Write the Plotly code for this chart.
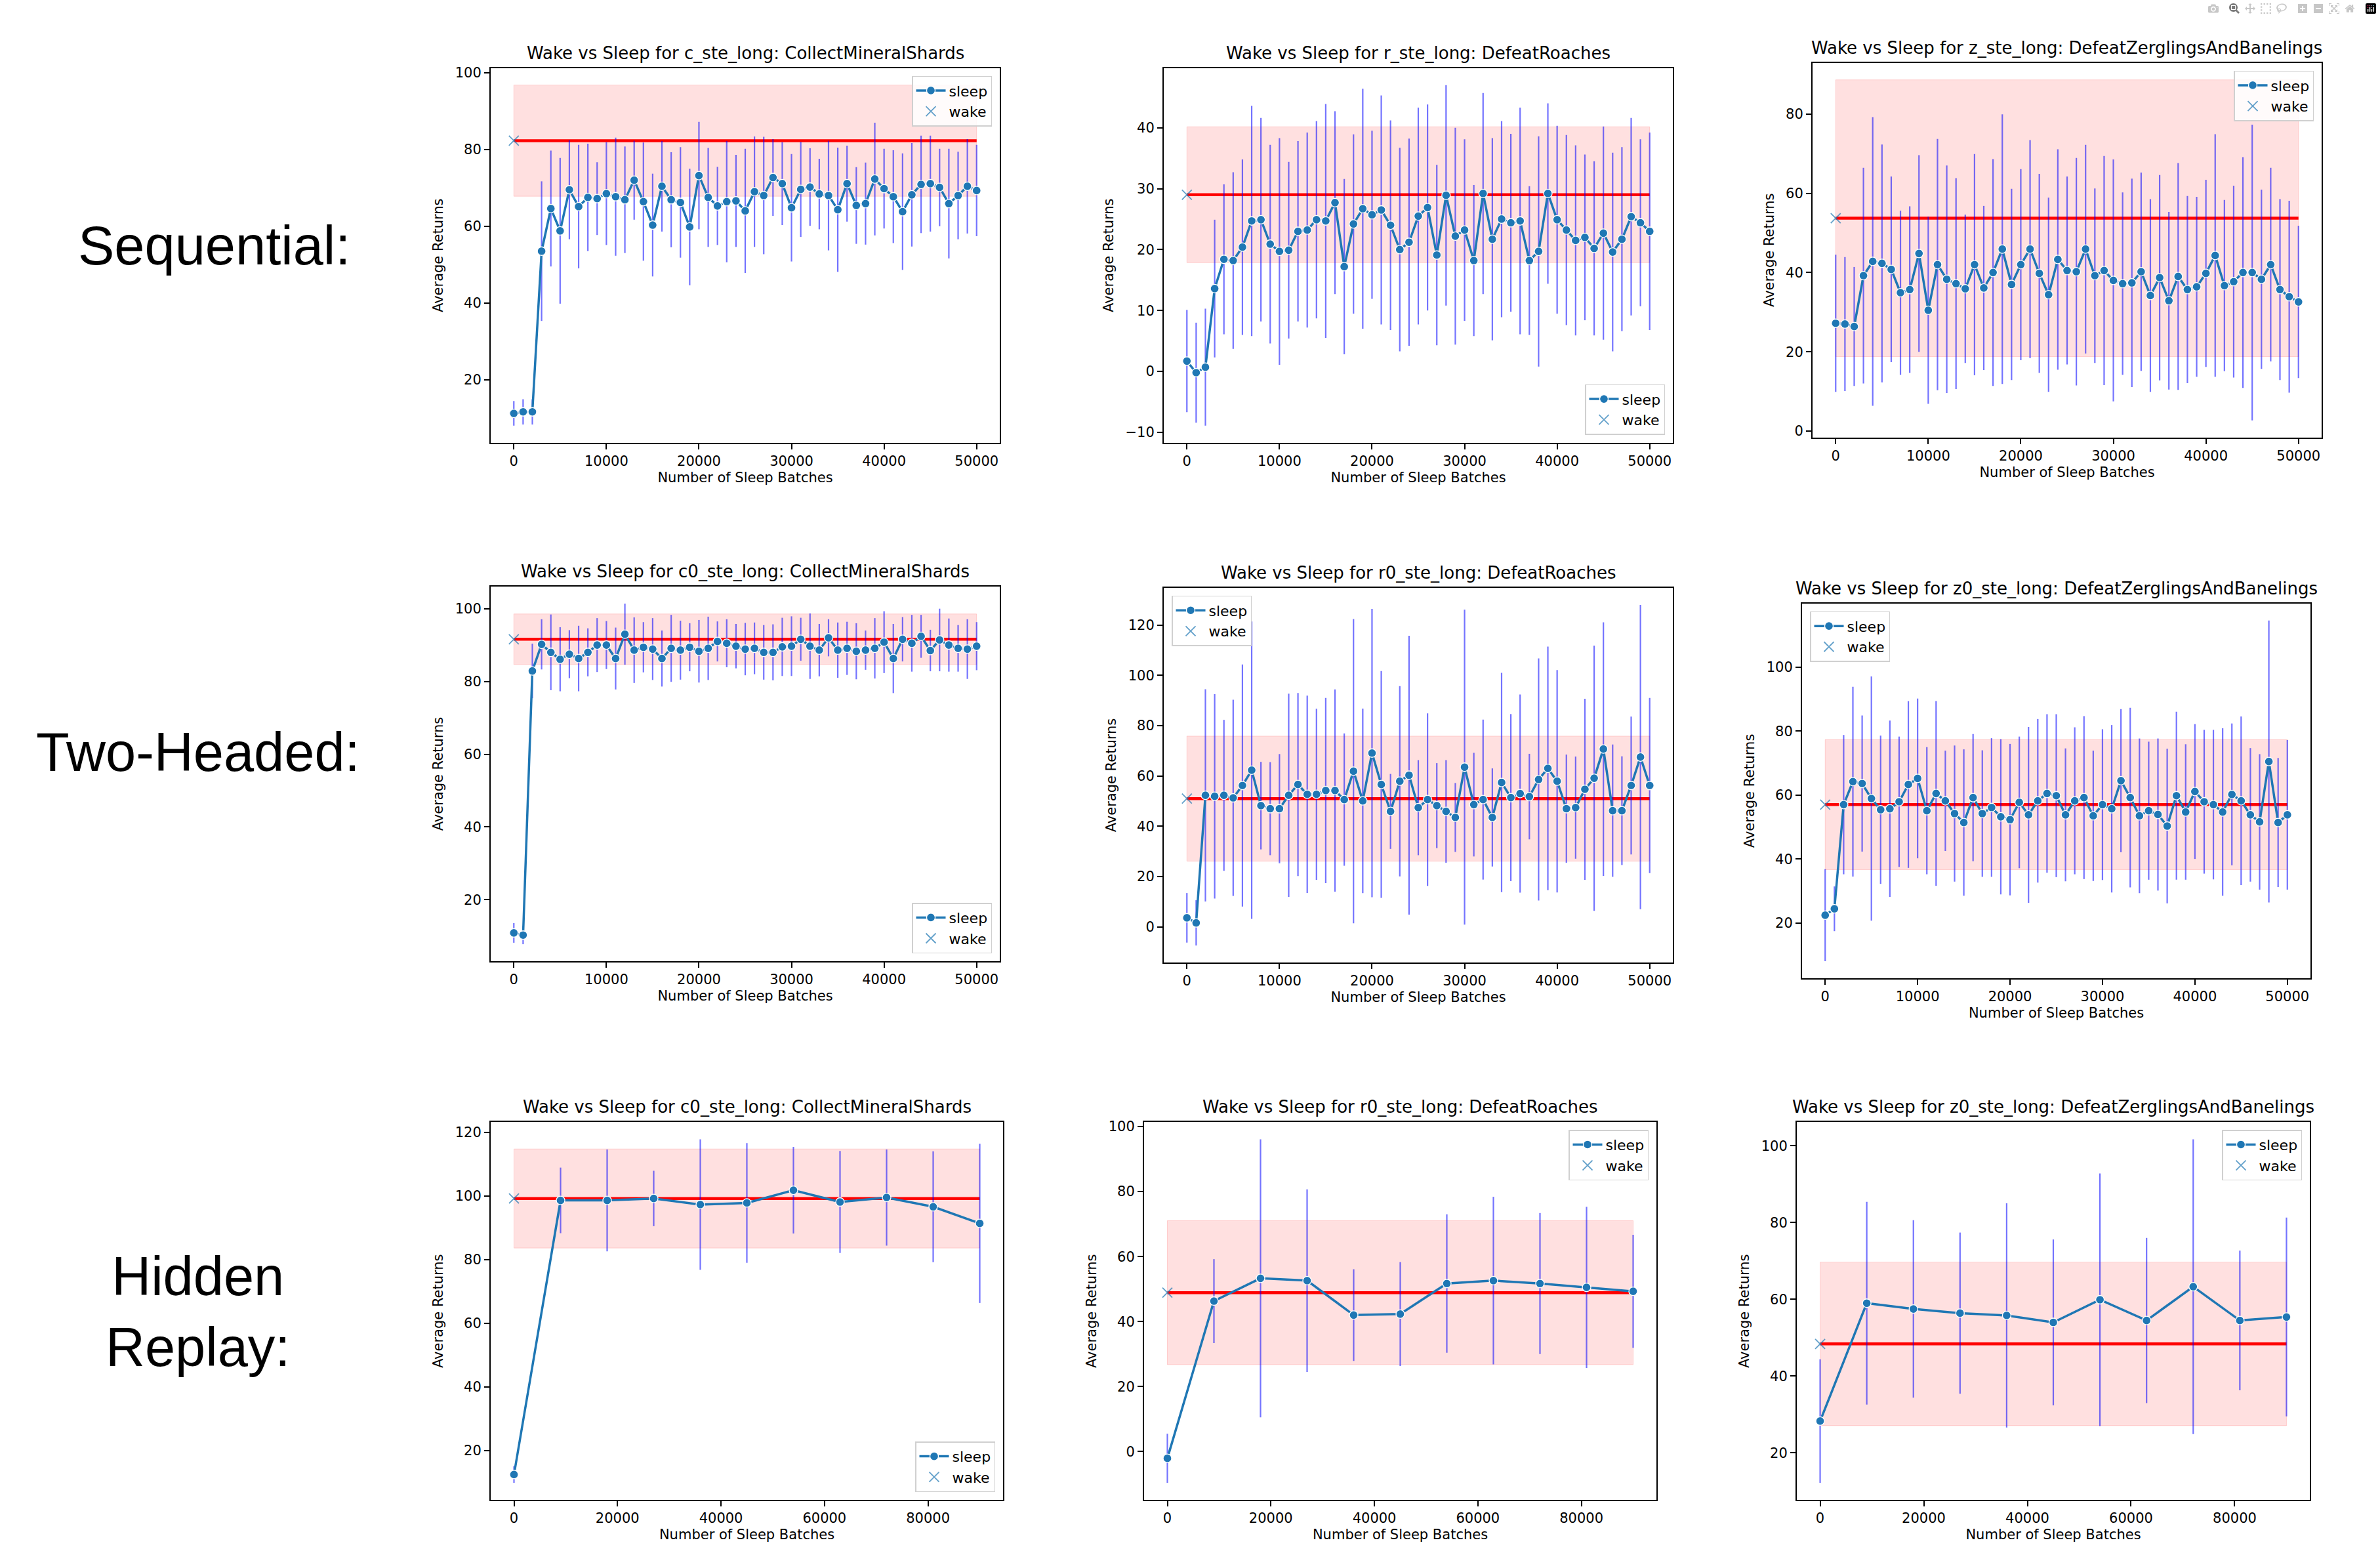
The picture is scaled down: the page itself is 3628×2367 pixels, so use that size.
import plotly.graph_objects as go

# number of sleep batches at each evaluation
seq_batches = [0, 1000, 2000, 3000, 4000, 5000, 6000, 7000, 8000, 9000,
               10000, 11000, 12000, 13000, 14000, 15000, 16000, 17000, 18000, 19000,
               20000, 21000, 22000, 23000, 24000, 25000, 26000, 27000, 28000, 29000,
               30000, 31000, 32000, 33000, 34000, 35000, 36000, 37000, 38000, 39000,
               40000, 41000, 42000, 43000, 44000, 45000, 46000, 47000, 48000, 49000,
               50000]
hr_batches = [0, 9000, 18000, 27000, 36000, 45000, 54000, 63000, 72000, 81000, 90000]

# Sequential
seq_c_mean = [11.2, 11.6, 11.6, 53.5, 64.6, 58.8, 69.5, 65.1, 67.5, 67.2,
              68.5, 67.7, 66.9, 72.0, 66.4, 60.3, 70.4, 66.9, 66.2, 59.8,
              73.2, 67.5, 65.3, 66.4, 66.6, 64.0, 69.0, 68.0, 72.7, 71.1,
              64.8, 69.6, 70.2, 68.4, 68.0, 64.3, 71.1, 65.4, 65.9, 72.3,
              69.8, 67.7, 63.8, 68.2, 70.9, 71.1, 70.1, 65.9, 68.0, 70.4,
              69.3]
seq_c_std = [3.2, 3.3, 3.3, 18.2, 15.1, 19.0, 12.9, 16.1, 14.0, 9.5,
             13.4, 15.4, 13.9, 10.3, 15.4, 13.4, 11.8, 12.4, 14.4, 15.2,
             14.0, 12.9, 10.2, 15.8, 12.0, 16.2, 14.4, 15.3, 10.0, 10.8,
             14.0, 12.4, 10.1, 9.2, 14.3, 16.2, 9.9, 10.0, 10.7, 14.7,
             10.4, 12.1, 15.2, 13.5, 12.7, 12.5, 10.1, 14.3, 11.4, 12.3,
             11.9]
seq_r_mean = [1.7, -0.2, 0.7, 13.6, 18.4, 18.2, 20.4, 24.7, 24.9, 20.9,
              19.7, 19.9, 23.0, 23.2, 24.9, 24.7, 27.7, 17.2, 24.2, 26.7,
              25.7, 26.5, 24.0, 20.0, 21.2, 25.5, 26.9, 19.1, 28.9, 22.2,
              23.2, 18.2, 29.2, 21.7, 25.0, 24.4, 24.7, 18.2, 19.7, 29.2,
              24.9, 23.2, 21.5, 22.0, 20.2, 22.7, 19.6, 21.7, 25.4, 24.4,
              23.0]
seq_r_std = [8.4, 8.2, 9.6, 11.3, 12.3, 14.5, 14.4, 18.9, 16.7, 16.3,
             18.6, 14.5, 14.8, 16.0, 16.2, 19.2, 15.0, 14.4, 14.7, 19.7,
             13.8, 18.8, 17.2, 16.7, 17.0, 17.8, 16.9, 14.8, 18.1, 17.8,
             14.9, 12.4, 16.5, 16.6, 16.1, 14.6, 18.6, 12.2, 18.9, 14.8,
             15.4, 15.6, 15.6, 13.6, 14.3, 17.5, 16.3, 15.1, 16.2, 13.7,
             16.2]
seq_z_mean = [27.2, 27.0, 26.4, 39.2, 42.8, 42.3, 40.8, 34.9, 35.7, 44.8,
              30.5, 42.0, 38.3, 37.2, 35.9, 42.0, 36.1, 40.0, 45.9, 37.0,
              42.0, 45.9, 39.8, 34.4, 43.3, 40.5, 40.2, 45.9, 39.2, 40.5,
              38.0, 37.2, 37.4, 40.2, 34.2, 38.7, 32.9, 39.0, 35.7, 36.4,
              39.8, 44.3, 36.7, 37.7, 40.0, 40.0, 38.3, 42.0, 35.7, 33.9,
              32.6]
seq_z_std = [17.3, 16.9, 15.0, 27.2, 36.4, 30.0, 23.4, 20.7, 21.0, 24.8,
             23.6, 31.7, 28.7, 26.6, 18.7, 27.9, 20.7, 28.6, 34.0, 24.1,
             24.1, 27.5, 25.1, 24.5, 27.8, 23.7, 28.7, 26.3, 22.0, 28.9,
             30.5, 23.0, 26.3, 25.0, 24.3, 25.9, 22.4, 28.6, 23.6, 22.7,
             23.6, 30.6, 21.6, 24.2, 29.1, 37.3, 22.6, 24.4, 22.8, 24.2,
             19.2]

# Two-Headed
two_c_mean = [10.9, 10.3, 82.9, 90.2, 88.0, 86.1, 87.5, 86.3, 88.0, 90.0,
              90.0, 86.3, 93.0, 88.6, 89.4, 88.9, 86.3, 89.1, 88.6, 89.4,
              88.3, 89.1, 91.0, 90.5, 89.7, 88.9, 89.1, 88.0, 88.0, 89.5,
              89.7, 91.6, 89.7, 88.6, 92.0, 88.6, 89.1, 88.3, 88.6, 89.1,
              90.8, 86.3, 91.6, 90.5, 92.4, 88.5, 91.4, 90.0, 89.1, 88.9,
              89.7]
two_c_std = [2.7, 2.5, 7.5, 6.9, 10.4, 8.8, 6.6, 9.0, 6.6, 7.4,
             6.6, 8.5, 8.4, 9.0, 6.9, 8.5, 7.7, 9.2, 8.1, 6.6,
             8.6, 8.7, 5.5, 6.6, 6.1, 7.2, 7.1, 7.5, 7.7, 8.0,
             8.2, 5.9, 9.0, 7.2, 5.1, 7.6, 7.3, 7.7, 5.4, 8.3,
             8.5, 9.5, 6.1, 7.8, 5.9, 5.7, 8.6, 7.3, 6.4, 8.2,
             6.6]
two_r_mean = [3.6, 1.6, 52.3, 51.9, 52.3, 51.3, 56.2, 62.3, 48.2, 47.0,
              47.0, 52.3, 56.6, 52.7, 52.7, 54.2, 54.2, 50.6, 61.9, 50.1,
              69.1, 56.6, 45.9, 57.9, 60.3, 47.4, 50.6, 48.2, 45.9, 43.5,
              63.5, 48.6, 50.6, 43.5, 57.4, 51.4, 53.0, 51.8, 58.6, 63.0,
              57.9, 47.0, 47.4, 54.7, 59.1, 70.7, 46.2, 46.2, 56.2, 67.5,
              56.2]
two_r_std = [9.85, 9.0, 42.2, 40.6, 30.0, 39.0, 48.1, 59.1, 17.4, 18.5,
             21.7, 40.4, 36.4, 39.2, 34.0, 36.8, 40.2, 26.3, 60.5, 36.7,
             57.3, 45.1, 14.9, 37.8, 55.4, 18.9, 34.3, 16.9, 20.4, 13.7,
             62.6, 20.6, 31.8, 19.5, 43.6, 33.2, 39.4, 17.0, 48.1, 48.4,
             44.2, 21.5, 20.3, 36.0, 52.7, 50.4, 26.3, 21.6, 27.4, 60.5,
             34.8]
two_z_mean = [22.4, 24.4, 57.0, 64.2, 63.6, 58.9, 55.4, 55.7, 57.9, 63.3,
              65.2, 55.1, 60.5, 58.2, 54.2, 51.4, 59.2, 54.2, 56.1, 53.2,
              52.3, 57.7, 53.8, 58.2, 60.5, 59.8, 53.8, 58.2, 59.2, 53.5,
              57.0, 55.7, 64.5, 59.2, 53.5, 55.1, 53.9, 50.3, 59.8, 54.7,
              61.1, 57.9, 57.0, 54.7, 60.2, 58.2, 53.8, 51.6, 70.5, 51.4,
              53.8]
two_z_std = [14.4, 7.0, 21.8, 29.7, 21.3, 38.2, 23.2, 27.6, 20.4, 26.1,
             25.0, 19.9, 28.9, 15.7, 21.3, 22.9, 19.9, 19.8, 21.7, 24.3,
             23.7, 20.6, 27.5, 25.6, 24.8, 25.5, 20.8, 23.0, 25.5, 20.4,
             23.6, 26.2, 22.4, 28.1, 24.2, 21.6, 23.8, 24.2, 26.3, 21.2,
             21.1, 22.5, 23.4, 26.2, 22.2, 26.4, 20.9, 21.2, 44.1, 20.2,
             23.4]

# Hidden Replay
hr_c_mean = [12.5, 98.6, 98.6, 99.2, 97.3, 97.8, 101.8, 98.1, 99.5, 96.6, 91.4]
hr_c_std = [2.6, 10.3, 16.0, 8.7, 20.5, 18.8, 13.6, 16.0, 15.1, 17.4, 25.0]
hr_r_mean = [-2.1, 46.3, 53.3, 52.6, 42.0, 42.3, 51.7, 52.6, 51.7, 50.5, 49.3]
hr_r_std = [7.55, 12.9, 42.8, 28.1, 14.1, 16.0, 21.3, 25.8, 21.7, 24.8, 17.4]
hr_z_mean = [28.3, 59.0, 57.5, 56.4, 55.8, 54.0, 59.9, 54.5, 63.3, 54.5, 55.4]
hr_z_std = [16.1, 26.4, 23.1, 21.0, 29.2, 21.6, 32.9, 21.5, 38.4, 18.2, 25.9]

# wake baseline (mean, std) per panel
wake_mean = [82.3, 29.0, 53.7, 91.6, 51.0, 57.0, 99.2, 48.9, 48.4]
wake_std = [14.5, 11.15, 34.9, 6.95, 24.85, 20.35, 15.55, 22.15, 21.3]

titles = [
    "Wake vs Sleep for c_ste_long: CollectMineralShards",
    "Wake vs Sleep for r_ste_long: DefeatRoaches",
    "Wake vs Sleep for z_ste_long: DefeatZerglingsAndBanelings",
    "Wake vs Sleep for c0_ste_long: CollectMineralShards",
    "Wake vs Sleep for r0_ste_long: DefeatRoaches",
    "Wake vs Sleep for z0_ste_long: DefeatZerglingsAndBanelings",
    "Wake vs Sleep for c0_ste_long: CollectMineralShards",
    "Wake vs Sleep for r0_ste_long: DefeatRoaches",
    "Wake vs Sleep for z0_ste_long: DefeatZerglingsAndBanelings",
]
row_labels = ["Sequential:", "Two-Headed:", "Hidden<br>Replay:"]

W, H = 3628, 2367

panels = [
    # batches, mean, std, axes box in px (x0, x1, ytop, ybottom), legend corner, y dtick
    (seq_batches, seq_c_mean, seq_c_std, (748, 1524, 99, 672), "ur", 20),
    (seq_batches, seq_r_mean, seq_r_std, (1774, 2550, 99, 672), "lr", 10),
    (seq_batches, seq_z_mean, seq_z_std, (2763, 3539, 91, 664), "ur", 20),
    (seq_batches, two_c_mean, two_c_std, (748, 1524, 892, 1465), "lr", 20),
    (seq_batches, two_r_mean, two_r_std, (1774, 2550, 894, 1467), "ul", 20),
    (seq_batches, two_z_mean, two_z_std, (2747, 3522, 918, 1491), "ul", 20),
    (hr_batches, hr_c_mean, hr_c_std, (748, 1529, 1711, 2289), "lr", 20),
    (hr_batches, hr_r_mean, hr_r_std, (1744, 2525, 1711, 2289), "ur", 20),
    (hr_batches, hr_z_mean, hr_z_std, (2739, 3521, 1711, 2289), "ur", 20),
]

C0 = "#1f77b4"
FONT = "DejaVu Sans"

fig = go.Figure()
layout = {}
annotations = []

for i, (bx, mean, std, box, corner, ydt) in enumerate(panels):
    k = i + 1
    sfx = "" if k == 1 else str(k)
    xref, yref = "x" + sfx, "y" + sfx
    leg = "legend" + sfx
    wm, ws = wake_mean[i], wake_std[i]
    x_lo, x_hi = bx[0], bx[-1]

    # wake +/- std band
    fig.add_trace(go.Scatter(
        x=[x_lo, x_hi, x_hi, x_lo, x_lo], y=[wm - ws, wm - ws, wm + ws, wm + ws, wm - ws],
        mode="lines", fill="toself", fillcolor="rgba(255,0,0,0.12)",
        line=dict(color="rgba(255,0,0,0.15)", width=1),
        showlegend=False, hoverinfo="skip", xaxis=xref, yaxis=yref))
    # wake mean line
    fig.add_trace(go.Scatter(
        x=[x_lo, x_hi], y=[wm, wm], mode="lines",
        line=dict(color="red", width=4.5),
        showlegend=False, hoverinfo="skip", xaxis=xref, yaxis=yref))
    # sleep curve with error bars
    fig.add_trace(go.Scatter(
        x=bx, y=mean, name="sleep", mode="lines+markers",
        line=dict(color=C0, width=3.5),
        marker=dict(size=13, color=C0, line=dict(color="white", width=1.3)),
        error_y=dict(type="data", array=std, visible=True,
                     color="rgba(0,0,255,0.55)", thickness=2.2, width=0),
        legend=leg, xaxis=xref, yaxis=yref))
    # wake point
    fig.add_trace(go.Scatter(
        x=[x_lo], y=[wm], name="wake", mode="markers",
        marker=dict(symbol="x-thin", size=15, color="rgba(31,119,180,0.7)",
                    line=dict(color="rgba(31,119,180,0.7)", width=1.8)),
        legend=leg, xaxis=xref, yaxis=yref))

    # axis ranges like matplotlib autoscale (5% margins)
    lo = min(min(m - s for m, s in zip(mean, std)), wm - ws)
    hi = max(max(m + s for m, s in zip(mean, std)), wm + ws)
    ypad = (hi - lo) * 0.05
    xpad = (x_hi - x_lo) * 0.05

    x0, x1, yt, yb = box
    xd = [x0 / W, x1 / W]
    yd = [1 - yb / H, 1 - yt / H]
    axis_common = dict(showline=True, mirror=True, linecolor="black", linewidth=2,
                       ticks="outside", ticklen=8, tickwidth=1.6, tickcolor="black",
                       showgrid=False, zeroline=False,
                       tickfont=dict(family=FONT, size=21, color="black"))
    layout["xaxis" + sfx] = dict(
        domain=xd, anchor=yref, range=[x_lo - xpad, x_hi + xpad],
        tick0=0, dtick=10000 if x_hi == 50000 else 20000, tickformat="d",
        title=dict(text="Number of Sleep Batches", standoff=6,
                   font=dict(family=FONT, size=21, color="black")),
        **axis_common)
    layout["yaxis" + sfx] = dict(
        domain=yd, anchor=xref, range=[lo - ypad, hi + ypad],
        tick0=0, dtick=ydt,
        title=dict(text="Average Returns", standoff=12,
                   font=dict(family=FONT, size=21, color="black")),
        **axis_common)

    px, py = 12 / W, 12 / H
    lx = xd[1] - px if corner[1] == "r" else xd[0] + px
    ly = yd[1] - py if corner[0] == "u" else yd[0] + py
    layout[leg] = dict(
        x=lx, y=ly, xanchor="right" if corner[1] == "r" else "left",
        yanchor="top" if corner[0] == "u" else "bottom",
        bgcolor="rgba(255,255,255,0.85)", bordercolor="#d0d0d0", borderwidth=1.5,
        font=dict(family=FONT, size=22, color="black"), itemwidth=45)

    annotations.append(dict(
        text=titles[i], xref="paper", yref="paper",
        x=(xd[0] + xd[1]) / 2, y=yd[1], xanchor="center", yanchor="bottom",
        yshift=6, showarrow=False, font=dict(family=FONT, size=26, color="black")))

# row labels on the left
for lab, (cx, cy) in zip(row_labels, [(326, 371), (302, 1145), (301, 2001)]):
    annotations.append(dict(
        text=lab, xref="paper", yref="paper", x=cx / W, y=1 - cy / H,
        xanchor="center", yanchor="middle", align="center", showarrow=False,
        font=dict(family="Liberation Sans", size=83, color="black")))

fig.update_layout(**layout)
fig.update_layout(
    width=W, height=H, margin=dict(l=0, r=0, t=0, b=0),
    paper_bgcolor="white", plot_bgcolor="white",
    font=dict(family=FONT, size=21, color="black"),
    annotations=annotations, showlegend=True)

fig.write_html("out.html", post_script="document.body.style.margin='0';")
